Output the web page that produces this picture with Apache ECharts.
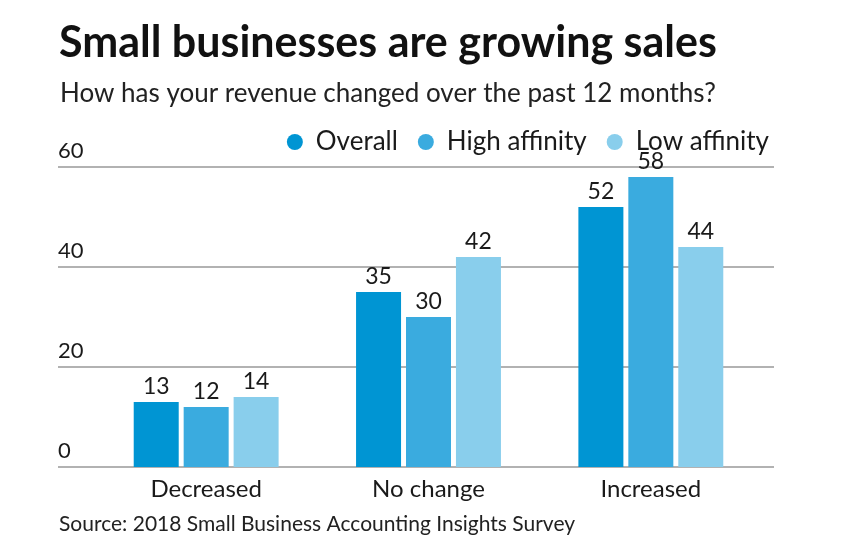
<!DOCTYPE html>
<html>
<head>
<meta charset="utf-8">
<script src="https://cdn.jsdelivr.net/npm/echarts@6/dist/echarts.min.js"></script>
<style>
  html, body { margin: 0; padding: 0; background: #fff; }
  #chart { width: 844px; height: 550px; }
</style>
</head>
<body>
<div id="chart"></div>
<script>
const categories = ['Decreased', 'No change', 'Increased']
const overall = [13, 35, 52]
const highAffinity = [12, 30, 58]
const lowAffinity = [14, 42, 44]
const seriesNames = ['Overall', 'High affinity', 'Low affinity']
const colors = ['#0095d3', '#3aabdf', '#89ceec']

const font = 'Lato'
const chart = echarts.init(document.getElementById('chart'))

const barSeries = (name, data, color) => ({
  name,
  type: 'bar',
  xAxisIndex: 1,
  yAxisIndex: 1,
  data,
  barWidth: 45,
  barGap: '11%',
  itemStyle: { color },
  label: {
    show: true,
    position: 'top',
    distance: 4,
    color: '#1a1a1a',
    fontFamily: font,
    fontSize: 23
  }
})

const option = {
  backgroundColor: '#fff',
  animation: false,
  title: [
    {
      text: 'Small businesses are growing sales',
      left: 54,
      top: 17,
      textStyle: { fontFamily: font, fontWeight: 'bold', fontSize: 43, color: '#111' }
    },
    {
      text: 'How has your revenue changed over the past 12 months?',
      left: 55,
      top: 76,
      textStyle: { fontFamily: font, fontWeight: 'normal', fontSize: 26, color: '#222' }
    },
    {
      text: 'Source: 2018 Small Business Accounting Insights Survey',
      left: 54,
      top: 509,
      textStyle: { fontFamily: font, fontWeight: 'normal', fontSize: 21, color: '#222' }
    }
  ],
  legend: {
    data: seriesNames,
    right: 70,
    top: 124,
    icon: 'circle',
    itemWidth: 16,
    itemHeight: 16,
    itemGap: 20,
    textStyle: { fontFamily: font, fontSize: 26, color: '#1a1a1a', padding: [0, 0, 0, 8] }
  },
  grid: [
    { left: 58, right: 70, top: 167, bottom: 83 },
    { left: 95, right: 82, top: 167, bottom: 83 }
  ],
  xAxis: [
    { type: 'value', gridIndex: 0, show: false },
    {
      type: 'category',
      gridIndex: 1,
      data: categories,
      axisLine: { show: false },
      axisTick: { show: false },
      axisLabel: { fontFamily: font, fontSize: 24, color: '#1a1a1a', margin: 10 }
    }
  ],
  yAxis: [
    {
      type: 'value',
      gridIndex: 0,
      min: 0,
      max: 60,
      interval: 20,
      axisLine: { show: false },
      axisTick: { show: false },
      splitLine: { lineStyle: { color: '#999', width: 1.5 } },
      axisLabel: {
        inside: true,
        margin: 0,
        verticalAlign: 'bottom',
        padding: [0, 0, 5, 0],
        fontFamily: font,
        fontSize: 22,
        color: '#1a1a1a'
      }
    },
    { type: 'value', gridIndex: 1, min: 0, max: 60, show: false }
  ],
  series: [
    barSeries(seriesNames[0], overall, colors[0]),
    barSeries(seriesNames[1], highAffinity, colors[1]),
    barSeries(seriesNames[2], lowAffinity, colors[2])
  ]
}

chart.setOption(option)
</script>
</body>
</html>
